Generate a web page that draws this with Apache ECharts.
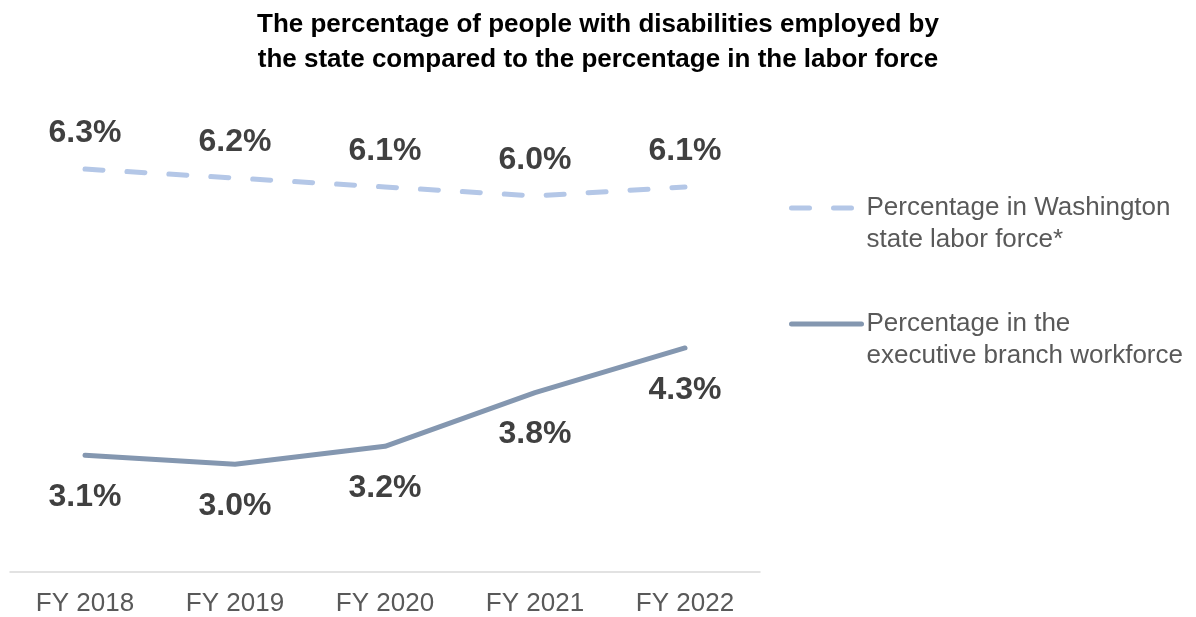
<!DOCTYPE html>
<html>
<head>
<meta charset="utf-8">
<script src="https://cdn.jsdelivr.net/npm/echarts@6/dist/echarts.min.js"></script>
<style>
  html, body { margin: 0; padding: 0; background: #ffffff; }
  #chart { width: 1196px; height: 617px; }
</style>
</head>
<body>
<div id="chart"></div>
<script>
// Fiscal years on the x axis
const categories = ['FY 2018', 'FY 2019', 'FY 2020', 'FY 2021', 'FY 2022'];
// Share of people with disabilities (%)
const laborForce = [6.3, 6.2, 6.1, 6.0, 6.1];
const executiveBranch = [3.1, 3.0, 3.2, 3.8, 4.3];

const laborName = 'Percentage in Washington state labor force*';
const execName = 'Percentage in the executive branch workforce';
// Leading blank line keeps the legend line level with the first text line
const legendText = {};
legendText[laborName] = ' \nPercentage in Washington\nstate labor force*';
legendText[execName] = ' \nPercentage in the\nexecutive branch workforce';

const baseFont = 'Arial, "Liberation Sans", sans-serif';
const labelStyle = {
  show: true,
  formatter: p => p.value.toFixed(1) + '%',
  fontFamily: baseFont,
  fontWeight: 'bold',
  fontSize: 32,
  color: '#404040'
};
const legendTextStyle = {
  fontFamily: baseFont,
  fontSize: 26,
  lineHeight: 32,
  color: '#595959'
};
const legendBase = {
  orient: 'vertical',
  left: 789,
  padding: 0,
  itemWidth: 70,
  itemHeight: 14,
  formatter: n => legendText[n],
  textStyle: legendTextStyle,
  itemStyle: { opacity: 0 },
  lineStyle: { width: 5, cap: 'round' },
  selectedMode: false
};

const chart = echarts.init(document.getElementById('chart'));
chart.setOption({
  animation: false,
  title: {
    text: 'The percentage of people with disabilities employed by\nthe state compared to the percentage in the labor force',
    left: 'center',
    top: 2,
    textStyle: {
      fontFamily: baseFont,
      fontWeight: 'bold',
      fontSize: 26,
      lineHeight: 35,
      color: '#000000'
    }
  },
  legend: [
    Object.assign({ data: [laborName], top: 160 }, legendBase),
    Object.assign({ data: [execName], top: 276 }, legendBase)
  ],
  grid: { left: 10, right: 436, top: 106.5, bottom: 45.5, containLabel: false },
  xAxis: {
    type: 'category',
    data: categories,
    boundaryGap: true,
    axisLine: { lineStyle: { color: '#d9d9d9', width: 1.5 } },
    axisTick: { show: false },
    axisLabel: {
      fontFamily: baseFont,
      fontSize: 26,
      color: '#595959',
      margin: 19
    }
  },
  yAxis: {
    type: 'value',
    min: 1.8,
    max: 7.0,
    show: false,
    splitLine: { show: false }
  },
  series: [
    {
      name: laborName,
      type: 'line',
      data: laborForce,
      symbol: 'circle',
      symbolSize: 0,
      showSymbol: true,
      lineStyle: { color: '#b4c7e7', width: 5, type: [18, 24], cap: 'round' },
      itemStyle: { color: '#b4c7e7' },
      label: Object.assign({ position: 'top', distance: 20 }, labelStyle)
    },
    {
      name: execName,
      type: 'line',
      data: executiveBranch,
      symbol: 'circle',
      symbolSize: 0,
      showSymbol: true,
      lineStyle: { color: '#8497b0', width: 5, cap: 'round' },
      itemStyle: { color: '#8497b0' },
      label: Object.assign({ position: 'bottom', distance: 26 }, labelStyle)
    }
  ]
});
</script>
</body>
</html>
